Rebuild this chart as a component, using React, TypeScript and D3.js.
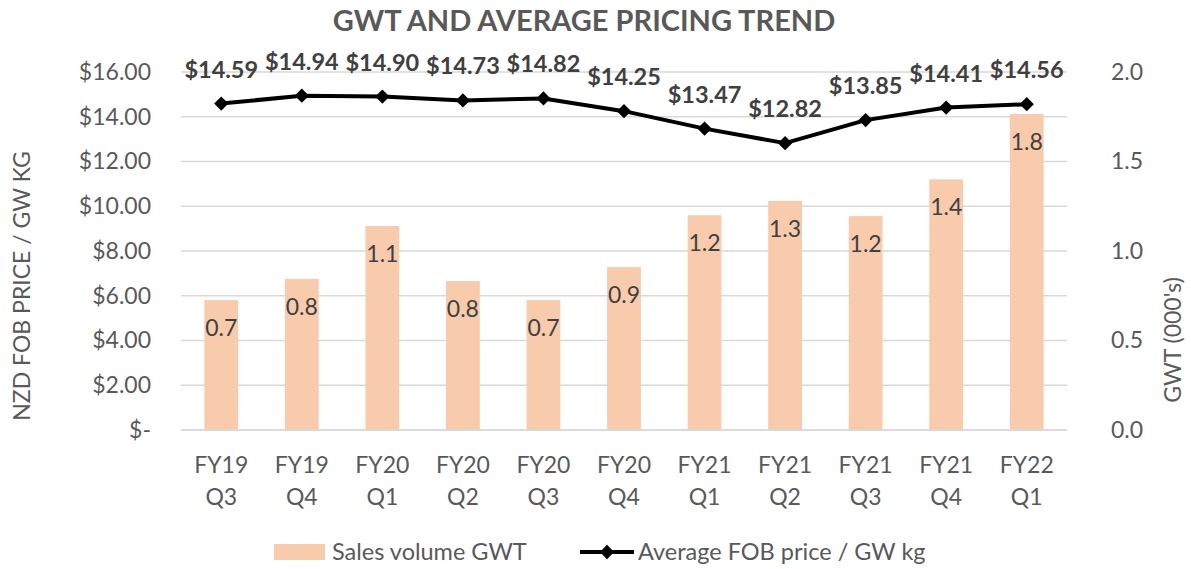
import * as d3 from "d3";
import { useEffect, useRef } from "react";

const quarters = ["FY19 Q3", "FY19 Q4", "FY20 Q1", "FY20 Q2", "FY20 Q3", "FY20 Q4", "FY21 Q1", "FY21 Q2", "FY21 Q3", "FY21 Q4", "FY22 Q1"];
const gwtVolume = [0.726, 0.844, 1.14, 0.832, 0.726, 0.91, 1.2, 1.28, 1.195, 1.4, 1.765];
const gwtLabels = ["0.7", "0.8", "1.1", "0.8", "0.7", "0.9", "1.2", "1.3", "1.2", "1.4", "1.8"];
const avgPrice = [14.59, 14.94, 14.9, 14.73, 14.82, 14.25, 13.47, 12.82, 13.85, 14.41, 14.56];
const priceTicks = [0, 2, 4, 6, 8, 10, 12, 14, 16];
const gwtTicks = [0, 0.5, 1, 1.5, 2];

const FONT = "Lato, 'Open Sans', sans-serif";
const TEXT = "#595959";

export default function App() {
    const ref = useRef<SVGSVGElement>(null);

    useEffect(() => {
        const svg = d3.select(ref.current);
        svg.selectAll("*").remove();

        const width = 1191;
        const height = 569;
        const margin = { top: 72, right: 124, bottom: 139, left: 181 };
        const plotW = width - margin.left - margin.right;
        const plotH = height - margin.top - margin.bottom;

        svg.attr("width", width).attr("height", height).style("font-family", FONT);

        const g = svg.append("g").attr("transform", `translate(${margin.left},${margin.top})`);

        // scales
        const x = d3.scaleBand().domain(quarters).range([0, plotW]).paddingInner(0.58).paddingOuter(0.29);
        const yPrice = d3.scaleLinear().domain([0, 16]).range([plotH, 0]);
        const yGwt = d3.scaleLinear().domain([0, 2]).range([plotH, 0]);
        const cx = (q: string) => (x(q) as number) + x.bandwidth() / 2;

        // gridlines
        g.append("g")
            .selectAll("line")
            .data(priceTicks)
            .enter()
            .append("line")
            .attr("x1", 0)
            .attr("x2", plotW)
            .attr("y1", d => yPrice(d))
            .attr("y2", d => yPrice(d))
            .attr("stroke", "#d9d9d9")
            .attr("stroke-width", 1.5);

        // left axis
        const fmtPrice = (d: number) => (d === 0 ? "$-" : "$" + d.toFixed(2));
        const left = g.append("g").call(d3.axisLeft(yPrice).tickValues(priceTicks).tickFormat(fmtPrice as any).tickSize(0).tickPadding(30));
        left.select(".domain").remove();
        left.selectAll("text").style("font-size", "23px").style("font-family", FONT).attr("fill", TEXT);

        // right axis
        const right = g
            .append("g")
            .attr("transform", `translate(${plotW},0)`)
            .call(d3.axisRight(yGwt).tickValues(gwtTicks).tickFormat(d3.format(".1f") as any).tickSize(0).tickPadding(44));
        right.select(".domain").remove();
        right.selectAll("text").style("font-size", "23px").style("font-family", FONT).attr("fill", TEXT);

        // bars
        g.selectAll("rect.bar")
            .data(quarters)
            .enter()
            .append("rect")
            .attr("class", "bar")
            .attr("x", d => x(d) as number)
            .attr("width", x.bandwidth())
            .attr("y", (d, i) => yGwt(gwtVolume[i]))
            .attr("height", (d, i) => plotH - yGwt(gwtVolume[i]))
            .attr("fill", "#f8cbad");

        g.selectAll("text.barlabel")
            .data(quarters)
            .enter()
            .append("text")
            .attr("x", d => cx(d))
            .attr("y", (d, i) => yGwt(gwtVolume[i]) + 36)
            .attr("text-anchor", "middle")
            .style("font-size", "23px")
            .attr("fill", "#404040")
            .text((d, i) => gwtLabels[i]);

        // x axis line
        g.append("line")
            .attr("x1", 0)
            .attr("x2", plotW)
            .attr("y1", plotH)
            .attr("y2", plotH)
            .attr("stroke", "#d9d9d9")
            .attr("stroke-width", 1.5);

        // x tick labels (two lines)
        const xt = g.append("g");
        quarters.forEach(q => {
            const [fy, qq] = q.split(" ");
            const t = xt.append("text")
                .attr("x", cx(q))
                .attr("y", plotH + 43)
                .attr("text-anchor", "middle")
                .style("font-size", "23px")
                .attr("fill", TEXT);
            t.append("tspan").attr("x", cx(q)).text(fy);
            t.append("tspan").attr("x", cx(q)).attr("dy", 32).text(qq);
        });

        // price line
        const line = d3
            .line<number>()
            .x((d, i) => cx(quarters[i]))
            .y(d => yPrice(d));

        g.append("path")
            .datum(avgPrice)
            .attr("d", line)
            .attr("fill", "none")
            .attr("stroke", "#000")
            .attr("stroke-width", 4)
            .attr("stroke-linejoin", "round");

        const diamond = d3.symbol().type(d3.symbolDiamond2).size(130);
        g.selectAll("path.marker")
            .data(avgPrice)
            .enter()
            .append("path")
            .attr("class", "marker")
            .attr("d", diamond)
            .attr("transform", (d, i) => `translate(${cx(quarters[i])},${yPrice(d)})`)
            .attr("fill", "#000");

        g.selectAll("text.pricelabel")
            .data(avgPrice)
            .enter()
            .append("text")
            .attr("x", (d, i) => cx(quarters[i]))
            .attr("y", d => yPrice(d) - 26)
            .attr("text-anchor", "middle")
            .style("font-size", "23.5px")
            .style("font-weight", "700")
            .attr("fill", "#404040")
            .text(d => "$" + d.toFixed(2));

        // title
        svg.append("text")
            .attr("x", 584)
            .attr("y", 31)
            .attr("text-anchor", "middle")
            .style("font-size", "29px")
            .style("font-weight", "700")
            .attr("fill", TEXT)
            .text("GWT AND AVERAGE PRICING TREND");

        // axis titles
        svg.append("text")
            .attr("transform", "rotate(-90)")
            .attr("x", -(margin.top + 214))
            .attr("y", 30)
            .attr("text-anchor", "middle")
            .style("font-size", "23px")
            .attr("fill", TEXT)
            .text("NZD FOB PRICE / GW KG");

        svg.append("text")
            .attr("transform", "rotate(-90)")
            .attr("x", -(margin.top + 268))
            .attr("y", 1181)
            .attr("text-anchor", "middle")
            .style("font-size", "23px")
            .attr("fill", TEXT)
            .text("GWT (000's)");

        // legend
        const legend = svg.append("g").attr("transform", "translate(274,552)");
        legend.append("rect").attr("x", 0).attr("y", -8).attr("width", 51).attr("height", 16).attr("fill", "#f8cbad");
        legend.append("text").attr("x", 58).attr("y", 8).style("font-size", "23.5px").attr("fill", TEXT).text("Sales volume GWT");

        const l2 = legend.append("g").attr("transform", "translate(306,0)");
        l2.append("line").attr("x1", 0).attr("x2", 54).attr("y1", 0).attr("y2", 0).attr("stroke", "#000").attr("stroke-width", 4);
        l2.append("path").attr("d", diamond).attr("transform", "translate(27,0)").attr("fill", "#000");
        l2.append("text").attr("x", 58).attr("y", 8).style("font-size", "23.5px").attr("fill", TEXT).text("Average FOB price / GW kg");
    }, []);

    return (
        <div style={{ position: "absolute", left: 0, top: 0, background: "#fff" }}>
            <svg ref={ref} />
        </div>
    );
}
